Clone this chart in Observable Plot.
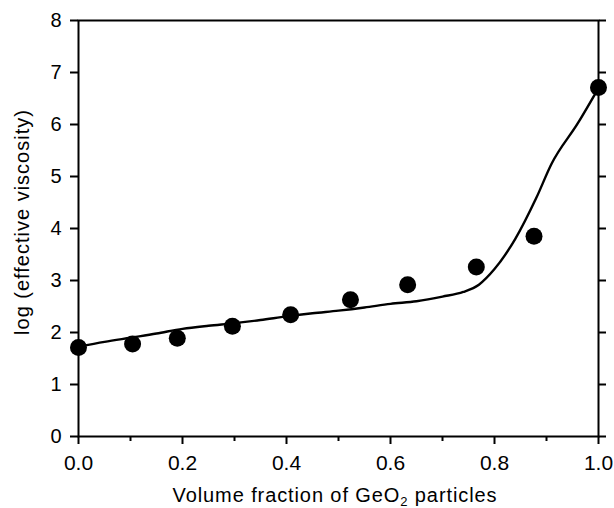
<!DOCTYPE html>
<html>
<head>
<meta charset="utf-8">
<script src="https://cdn.jsdelivr.net/npm/d3@7"></script>
<script src="https://cdn.jsdelivr.net/npm/@observablehq/plot@0.6"></script>
<style>
  html, body { margin: 0; padding: 0; background: #fff; }
  #chart svg { display: block; }
</style>
</head>
<body>
<div id="chart"></div>
<script>
// Measured points
const pointX = [0.0, 0.104, 0.19, 0.296, 0.408, 0.523, 0.633, 0.765, 0.876, 1.0];
const pointY = [1.71, 1.78, 1.89, 2.12, 2.34, 2.63, 2.92, 3.26, 3.85, 6.71];

// Model curve
const curveX = [0.0, 0.05, 0.1, 0.15, 0.2, 0.25, 0.3, 0.35, 0.4, 0.45, 0.5, 0.55, 0.6, 0.65, 0.7, 0.74, 0.77, 0.8, 0.84, 0.88, 0.91, 0.96, 1.0];
const curveY = [1.73, 1.82, 1.90, 1.98, 2.07, 2.13, 2.18, 2.24, 2.31, 2.37, 2.42, 2.48, 2.55, 2.60, 2.69, 2.78, 2.92, 3.22, 3.80, 4.58, 5.25, 6.02, 6.70];

const xTicks = [0, 0.2, 0.4, 0.6, 0.8, 1.0];
const xMinorTicks = [0.1, 0.3, 0.5, 0.7, 0.9];
const yTicks = [0, 1, 2, 3, 4, 5, 6, 7, 8];

const points = pointX.map((x, i) => ({x, y: pointY[i]}));
const curve = curveX.map((x, i) => ({x, y: curveY[i]}));

const font = "'Liberation Sans', Arial, Helvetica, sans-serif";
const blank = () => "";

const chart = Plot.plot({
  width: 614,
  height: 508,
  marginLeft: 78,
  marginRight: 16,
  marginTop: 20,
  marginBottom: 72,
  style: {fontFamily: font, fontSize: "20px", color: "#000", background: "#fff"},
  x: {domain: [0, 1]},
  y: {domain: [0, 8]},
  marks: [
    Plot.frame({stroke: "#000", strokeWidth: 2}),
    Plot.axisX({ticks: xTicks, tickSize: 8, tickFormat: blank, strokeWidth: 2, label: null}),
    Plot.axisX({ticks: xMinorTicks, tickSize: 5, tickFormat: blank, strokeWidth: 2, label: null}),
    Plot.axisY({ticks: yTicks, tickSize: 8, tickFormat: blank, strokeWidth: 2, label: null}),
    Plot.axisY({anchor: "right", ticks: yTicks, tickSize: 7, tickFormat: blank, strokeWidth: 2, label: null}),
    // tick labels
    Plot.text(xTicks, {x: d => d, y: 0, dy: 19, lineAnchor: "top", text: d => d3.format(".1f")(d),
      fontSize: 21, fill: "#000"}),
    Plot.text(yTicks, {x: 0, y: d => d, dx: -17, textAnchor: "end", text: d => String(d),
      fontSize: 20, fill: "#000"}),
    Plot.line(curve, {x: "x", y: "y", stroke: "#000", strokeWidth: 2.4, curve: "monotone-x"}),
    Plot.dot(points, {x: "x", y: "y", r: 8.5, fill: "#000", stroke: "none"})
  ]
});

const svg = d3.select(chart);

// Axis titles as real text
svg.append("text")
  .attr("x", 78 + 520 / 2 - 3)
  .attr("y", 502)
  .attr("text-anchor", "middle")
  .attr("font-size", 20)
  .attr("letter-spacing", 0.9)
  .attr("fill", "#000")
  .call(t => {
    t.append("tspan").text("Volume fraction of GeO");
    t.append("tspan").attr("font-size", 13).attr("dy", 4).text("2");
    t.append("tspan").attr("dy", -4).text(" particles");
  });
svg.append("text")
  .attr("transform", "translate(29,222) rotate(-90)")
  .attr("text-anchor", "middle")
  .attr("font-size", 20)
  .attr("letter-spacing", 1)
  .attr("fill", "#000")
  .text("log (effective viscosity)");

document.getElementById("chart").appendChild(chart);
</script>
</body>
</html>
